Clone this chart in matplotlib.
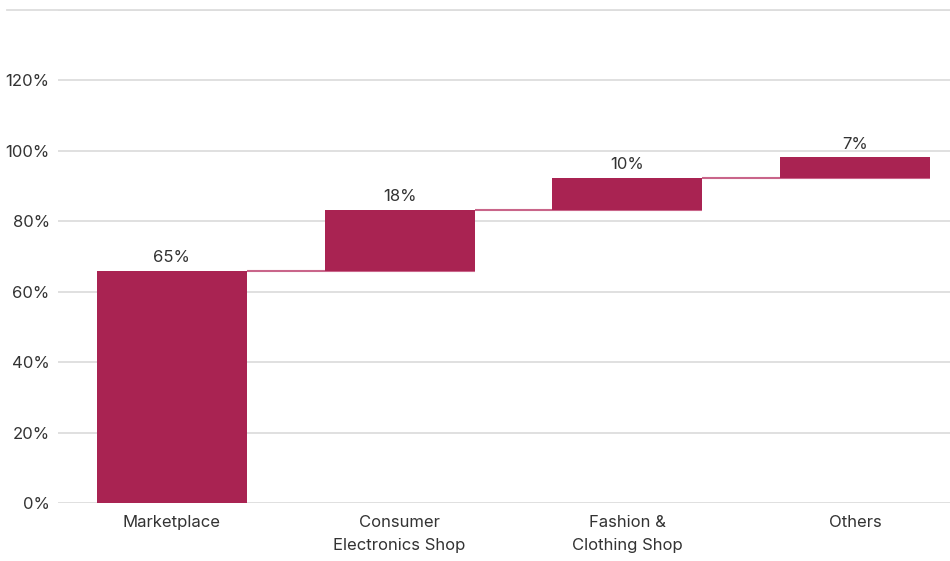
import matplotlib
matplotlib.use("Agg")
import matplotlib.pyplot as plt
import numpy as np

categories = ["Marketplace", "Consumer\nElectronics Shop", "Fashion &\nClothing Shop", "Others"]
values = [65.9, 17.3, 9.1, 5.8]
value_labels = ["65%", "18%", "10%", "7%"]
yticks = [0, 20, 40, 60, 80, 100, 120, 140]
ytick_labels = ["0%", "20%", "40%", "60%", "80%", "100%", "120%", ""]

plt.rcParams['font.family'] = ['Inter', 'DejaVu Sans']

bar_color = "#A92352"
conn_color = "#C9658A"
text_color = "#333333"

fig = plt.figure(figsize=(9.5, 5.61), dpi=100)
ax = fig.add_axes([58/950, (561-503.3)/561, (969-58)/950, (503.3-9.7)/561])

x = np.arange(len(categories))
bottoms = np.concatenate([[0], np.cumsum(values)[:-1]])
tops = np.cumsum(values)
w = 0.658

ax.bar(x, values, bottom=bottoms, width=w, color=bar_color, zorder=3)

for i in range(len(values) - 1):
    ax.hlines(tops[i], x[i] + w/2, x[i+1] + w/2, color=conn_color, linewidth=1.5, zorder=2)

for i, lab in enumerate(value_labels):
    ax.annotate(lab, (x[i], tops[i]), xytext=(0, 4), textcoords="offset points",
                ha="center", va="bottom", fontsize=12, color=text_color)

ax.set_xlim(-0.5, len(categories) - 0.5)
ax.set_ylim(0, 140)
ax.set_yticks(yticks)
ax.set_yticklabels(ytick_labels)
ax.set_xticks(x)
ax.set_xticklabels(categories, linespacing=1.65)
ax.tick_params(axis="both", length=0, labelsize=12, colors=text_color)
ax.tick_params(axis="y", pad=6)
ax.tick_params(axis="x", pad=8.5)
ax.grid(axis="y", color="#dddddd", linewidth=1.3, zorder=0)
for s in ax.spines.values():
    s.set_visible(False)

# top border line extending to the left edge
top_y = 1 - 9.7/561
fig.add_artist(plt.Line2D([7/950, 1], [top_y, top_y], color="#dddddd", linewidth=1.3))

fig.savefig("out.png", dpi=100)
